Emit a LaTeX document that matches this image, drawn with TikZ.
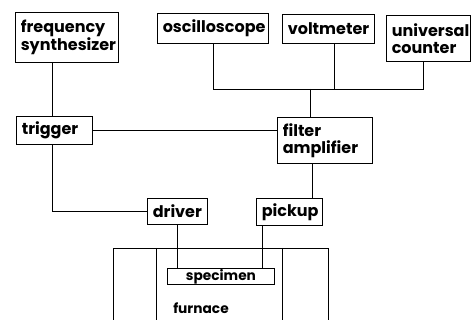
\documentclass[tikz,border=0pt]{standalone}
\usepackage{fontspec}
\setmainfont{Poppins}
\usetikzlibrary{calc}
\tikzset{
  box/.style={draw, line width=0.7pt, anchor=north west, align=left, inner xsep=4pt, inner ysep=0pt, font=\fontsize{12}{12.8}\selectfont\bfseries},
  wire/.style={line width=0.7pt},
  small/.style={font=\fontsize{10.3}{11}\selectfont\bfseries},
}
\begin{document}
\begin{tikzpicture}[x=0.75pt,y=-0.75pt]
\useasboundingbox (0,0) rectangle (471,320);
% boxes
\node[box, minimum width=77.25pt, minimum height=37.5pt, text width=69.25pt] (fs) at (15,12) {frequency\\synthesizer};
\node[box, minimum width=83.25pt, minimum height=22.5pt, text width=75.25pt] (osc) at (157,13) {oscilloscope};
\node[box, minimum width=69pt, minimum height=21.75pt, text width=61pt] (volt) at (282,14) {voltmeter};
\node[box, minimum width=63pt, minimum height=34.5pt, text width=55pt] (uc) at (386,15) {universal\\counter};
\node[box, minimum width=57pt, minimum height=21pt, text width=49pt] (trig) at (16,116) {trigger};
\node[box, minimum width=71.25pt, minimum height=34.5pt, text width=63.25pt] (filt) at (277,117) {filter\\amplifier};
\node[box, minimum width=45pt, minimum height=19.5pt, text width=37pt] (drv) at (147,198) {driver};
\node[box, minimum width=49.5pt, minimum height=20.25pt, text width=41.5pt] (pick) at (256,198) {pickup};
\node[box, small, minimum width=80.25pt, minimum height=12pt, text width=72.25pt, align=center] (spec) at (167,268) {specimen};
\node[small, inner sep=0pt] (furn) at (201,308) {furnace};
% bus coordinates
\coordinate (busR) at (423,89);
\coordinate (fsx) at ($(fs.south west)+(37,0)$);
\coordinate (oscx) at ($(osc.south west)+(56,0)$);
\coordinate (voltx) at ($(volt.south west)+(52,0)$);
\coordinate (ucx) at ($(uc.south west)+(37,0)$);
\coordinate (filtup) at ($(filt.north west)+(33,0)$);
\coordinate (filtdn) at ($(filt.south west)+(35,0)$);
\coordinate (drvx) at ($(drv.south west)+(30,0)$);
\coordinate (pickx) at ($(pick.south west)+(6,0)$);
% connectors
\draw[wire] (fsx) -- (fsx |- trig.north);
\draw[wire] (fsx |- trig.south) |- (drv.west);
\draw[wire] (trig.east) -- (trig.east -| filt.west);
\draw[wire] (oscx) |- (busR) -- (ucx);
\draw[wire] (voltx) -- (voltx |- busR);
\draw[wire] (filtup |- busR) -- (filtup);
\draw[wire] (filtdn) -- (filtdn |- pick.north);
\draw[wire] (drvx) -- (drvx |- spec.north);
\draw[wire] (pickx) -- (pickx |- spec.north);
% furnace
\draw[wire] (113,322) |- (328,248) -- (328,322);
\draw[wire] (156,248) -- (156,322);
\draw[wire] (282,248) -- (282,322);
\end{tikzpicture}
\end{document}
